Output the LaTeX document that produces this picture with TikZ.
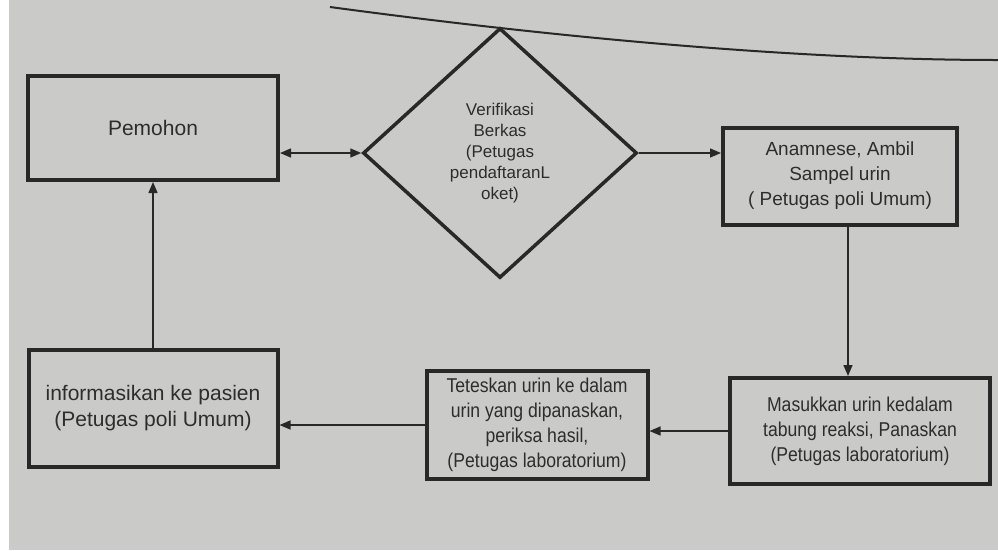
\documentclass[tikz,border=0pt]{standalone}
\usepackage{fontspec}
\setmainfont{Liberation Sans}
\newfontfamily\narrowfont[FakeStretch=0.88]{Liberation Sans}
\usetikzlibrary{shapes.geometric,arrows.meta}
\definecolor{paper}{RGB}{202,202,200}
\definecolor{ink}{RGB}{40,40,40}
\definecolor{txt}{RGB}{45,45,45}
\tikzset{
  box/.style={draw=ink, line width=4pt, rectangle, inner sep=0pt, align=center, text=txt},
  dia/.style={draw=ink, line width=3.5pt, diamond, inner sep=0pt, align=center, text=txt,
              minimum width=274pt, minimum height=250pt},
  conn/.style={draw=ink, line width=1.4pt, -{Triangle[length=11pt,width=9pt]}},
  biconn/.style={draw=ink, line width=1.4pt, {Triangle[length=11pt,width=9pt]}-{Triangle[length=11pt,width=9pt]}},
}
\begin{document}
\begin{tikzpicture}[x=1pt,y=-1pt]
\useasboundingbox (0,0) rectangle (998,550);
\fill[paper] (0,0) rectangle (998,550);
\fill[white] (0,0) rectangle (9,550);
\draw[ink, line width=2pt] (330,7) .. controls (560,38) and (800,60) .. (998,60);

\node[box, minimum width=250pt, minimum height=104pt, font=\fontsize{21}{26}\selectfont] (pemohon) at (153,128) {Pemohon};
\node[dia, font=\fontsize{17}{21}\selectfont] (verif) at (500,153) {Verifikasi\\Berkas\\(Petugas\\pendaftaranL\\oket)};
\node[box, minimum width=234pt, minimum height=97pt, font=\fontsize{19}{25}\selectfont] (anam) at (840,176) {Anamnese, Ambil\\Sampel urin\\( Petugas poli Umum)};
\node[box, minimum width=260pt, minimum height=106pt, font=\narrowfont\fontsize{20}{25}\selectfont] (masuk) at (860,431) {Masukkan urin kedalam\\tabung reaksi, Panaskan\\(Petugas laboratorium)};
\node[box, minimum width=221pt, minimum height=108pt, font=\narrowfont\fontsize{20}{25}\selectfont] (tetes) at (537,425) {Teteskan urin ke dalam\\urin yang dipanaskan,\\periksa hasil,\\(Petugas laboratorium)};
\node[box, minimum width=249pt, minimum height=117pt, font=\fontsize{21}{26}\selectfont] (info) at (153,408) {informasikan ke pasien\\(Petugas poli Umum)};

\draw[biconn] (pemohon.east |- verif.west) -- (verif.west);
\draw[conn] (verif.east) -- (verif.east -| anam.west);
\draw[conn] ([xshift=8pt]anam.south) -- ([xshift=8pt]anam.south |- masuk.north);
\draw[conn] (masuk.west) -- (masuk.west -| tetes.east);
\draw[conn] (tetes.west) -- (tetes.west -| info.east);
\draw[conn] (info.north) -- (pemohon.south);
\end{tikzpicture}
\end{document}
